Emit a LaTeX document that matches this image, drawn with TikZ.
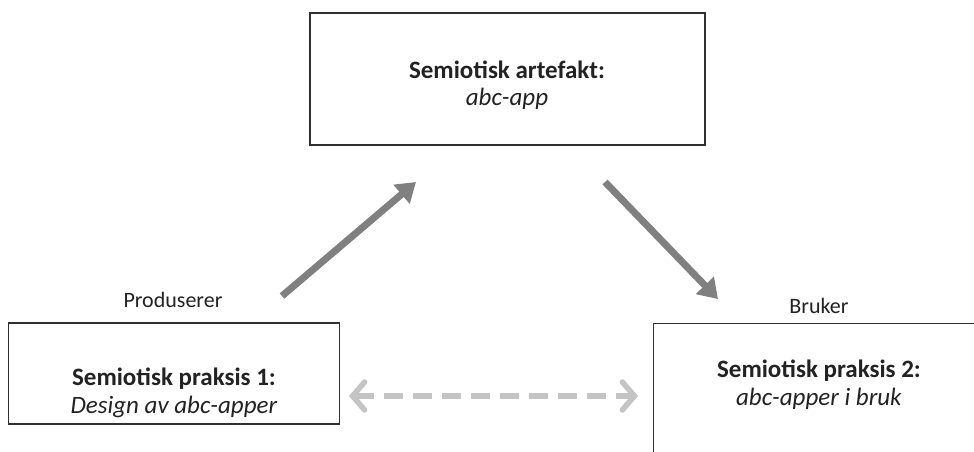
\documentclass[tikz,border=0pt]{standalone}
\usepackage{fontspec}
\setmainfont{Carlito}
\usetikzlibrary{arrows.meta}
\definecolor{boxline}{HTML}{303030}
\definecolor{arrowgray}{HTML}{808080}
\definecolor{dashgray}{HTML}{C4C4C4}
\definecolor{txt}{HTML}{222222}
\tikzset{
  box/.style={draw=boxline, line width=1.4pt, rectangle, inner sep=0pt},
  tline/.style={text=txt, anchor=base, inner sep=0pt, font=\fontsize{25}{28}\selectfont},
  lbl/.style={text=txt, anchor=base, font=\fontsize{22}{24}\selectfont, inner sep=0pt},
  flow/.style={draw=arrowgray, line width=7pt, -{Triangle[length=19pt,width=24pt]}},
  link/.style={draw=dashgray, line width=5.5pt, dash pattern=on 19pt off 10pt, {Straight Barb[length=12pt,width=28pt,line cap=round]}-{Straight Barb[length=12pt,width=28pt,line cap=round]}}
}
\begin{document}
\begin{tikzpicture}[x=1pt,y=-1pt]
\useasboundingbox (0,0) rectangle (974,451);
\fill[white] (0,0) rectangle (974,451);
\begin{scope}
\clip (0,0) rectangle (974,451);
\node[box, minimum width=395pt, minimum height=132pt] (art) at (507.5,79) {};
\node[box, minimum width=331pt, minimum height=101pt] (p1) at (174,373.5) {};
\node[box, minimum width=360pt, minimum height=160pt, anchor=north west] (p2) at (653,323) {};
\end{scope}
\node[tline] (art1) at (507,78) {\textbf{Semiotisk artefakt:}};
\node[tline] (art2) at (507,105) {\textit{abc-app}};
\node[tline] (p11) at (174,385) {\textbf{Semiotisk praksis 1:}};
\node[tline] (p12) at (174,413) {\textit{Design av abc-apper}};
\node[tline] (p21) at (819,377) {\textbf{Semiotisk praksis 2:}};
\node[tline] (p22) at (819,405) {\textit{abc-apper i bruk}};
\node[lbl] (prod) at (173,307) {Produserer};
\node[lbl] (bruk) at (819,313) {Bruker};
\coordinate (a1s) at (282,296);
\coordinate (a1e) at (416,182);
\coordinate (a2s) at (605,182);
\coordinate (a2e) at (718,299);
\coordinate (ds) at (349,396);
\coordinate (de) at (638,396);
\draw[flow] (a1s) -- (a1e);
\draw[flow] (a2s) -- (a2e);
\draw[link] (ds) -- (de);
\end{tikzpicture}
\end{document}
